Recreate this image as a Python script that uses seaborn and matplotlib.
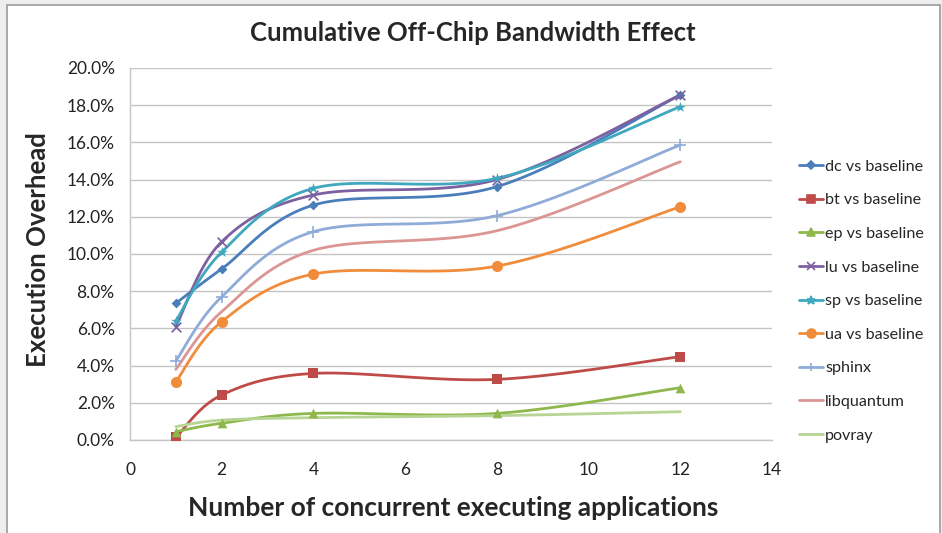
import numpy as np
import matplotlib
matplotlib.use("Agg")
import matplotlib.pyplot as plt
import matplotlib.patches as mpatches
from matplotlib.ticker import PercentFormatter
import seaborn as sns

# data (execution overhead, fraction)
apps = [1, 2, 4, 8, 12]
dc = [0.0735, 0.092, 0.1263, 0.1362, 0.1855]
bt = [0.0014, 0.0242, 0.0358, 0.0326, 0.0448]
ep = [0.0045, 0.0090, 0.0143, 0.0143, 0.0281]
lu = [0.0610, 0.1066, 0.1317, 0.1400, 0.1855]
sp = [0.0640, 0.1010, 0.1353, 0.1407, 0.1792]
ua = [0.0313, 0.0636, 0.0892, 0.0935, 0.1254]
sphinx = [0.0425, 0.0770, 0.1120, 0.1206, 0.1586]
libquantum = [0.0380, 0.0690, 0.1020, 0.1125, 0.1496]
povray = [0.0072, 0.0107, 0.0120, 0.0131, 0.0152]

names = ["dc vs baseline", "bt vs baseline", "ep vs baseline", "lu vs baseline",
         "sp vs baseline", "ua vs baseline", "sphinx", "libquantum", "povray"]
series = [dc, bt, ep, lu, sp, ua, sphinx, libquantum, povray]
colors = ["#4a7ebb", "#be4b48", "#8fb84c", "#7d60a0", "#3fa8bf", "#f08c3a",
          "#8fabd8", "#db9694", "#b8d494"]
markers = ["D", "s", "^", "x", "*", "o", "+", None, None]
msizes = [5, 7, 7, 7, 8, 8, 8, 0, 0]


def excel_smooth(x, y, n=30):
    # Excel-style smoothed line: cubic Bezier with Catmull-Rom control points
    x = np.asarray(x, float)
    y = np.asarray(y, float)
    px, py = [], []
    for i in range(len(x) - 1):
        i0 = max(i - 1, 0)
        i3 = min(i + 2, len(x) - 1)
        c1x = x[i] + (x[i + 1] - x[i0]) / 6
        c1y = y[i] + (y[i + 1] - y[i0]) / 6
        c2x = x[i + 1] - (x[i3] - x[i]) / 6
        c2y = y[i + 1] - (y[i3] - y[i]) / 6
        t = np.linspace(0, 1, n)
        bx = (1 - t) ** 3 * x[i] + 3 * (1 - t) ** 2 * t * c1x + 3 * (1 - t) * t ** 2 * c2x + t ** 3 * x[i + 1]
        by = (1 - t) ** 3 * y[i] + 3 * (1 - t) ** 2 * t * c1y + 3 * (1 - t) * t ** 2 * c2y + t ** 3 * y[i + 1]
        px.extend(bx)
        py.extend(by)
    return np.array(px), np.array(py)


sns.set_style("white")
plt.rcParams["font.family"] = ["Lato", "DejaVu Sans"]

fig = plt.figure(figsize=(9.42, 5.33), dpi=100)
fig.patch.set_facecolor("#eeeeee")
fig.add_artist(mpatches.Rectangle((7 / 942, -0.01), 933 / 942, 1 - 5 / 533 + 0.01,
                                  transform=fig.transFigure, facecolor="white",
                                  edgecolor="#9a9a9a", linewidth=1.2, zorder=-1))
ax = fig.add_axes([130 / 942, 93 / 533, 642 / 942, 372 / 533])
ax.set_facecolor("white")

handles = []
for name, vals, c, m, ms in zip(names, series, colors, markers, msizes):
    sx, sy = excel_smooth(apps, vals)
    sns.lineplot(x=sx, y=sy, sort=False, color=c, linewidth=2, ax=ax, estimator=None)
    if m is not None:
        sns.scatterplot(x=apps, y=vals, color=c, marker=m, s=ms ** 2, ax=ax,
                        linewidth=1.2 if m in ("x", "+") else 0, zorder=5,
                        edgecolor=c)
    h, = ax.plot([], [], color=c, linewidth=2, marker=m if m else None,
                 markersize=ms * 0.8, markeredgewidth=1.2)
    handles.append(h)

ax.set_xlim(0, 14)
ax.set_ylim(0, 0.20)
ax.set_xticks(range(0, 15, 2))
ax.set_yticks(np.arange(0, 0.201, 0.02))
ax.yaxis.set_major_formatter(PercentFormatter(1.0, decimals=1))
ax.grid(axis="y", color="#c4c4c4", linewidth=1)
ax.set_axisbelow(True)
for s in ["top", "right"]:
    ax.spines[s].set_visible(False)
for s in ["left", "bottom"]:
    ax.spines[s].set_color("#c4c4c4")
    ax.spines[s].set_linewidth(1)
ax.tick_params(axis="both", which="major", direction="out", length=6,
               color="#c4c4c4", labelsize=12.5, labelcolor="#222222", pad=5)
ax.tick_params(axis="x", pad=10)

fig.text(473 / 942, 1 - 33 / 533, "Cumulative Off-Chip Bandwidth Effect",
         ha="center", va="center", fontsize=18.5, fontweight="bold")
fig.text(38 / 942, 1 - 250 / 533, "Execution Overhead", rotation=90,
         ha="center", va="center", fontsize=18.5, fontweight="bold")
fig.text(453 / 942, 1 - 508 / 533, "Number of concurrent executing applications",
         ha="center", va="center", fontsize=19, fontweight="bold")

fig.legend(handles, names, loc="upper left", bbox_to_anchor=(784 / 942, 1 - 145 / 533),
           frameon=False, fontsize=11.6, labelspacing=1.2, handlelength=1.5,
           handletextpad=0.15)

fig.savefig("out.png", dpi=100, facecolor=fig.get_facecolor())
